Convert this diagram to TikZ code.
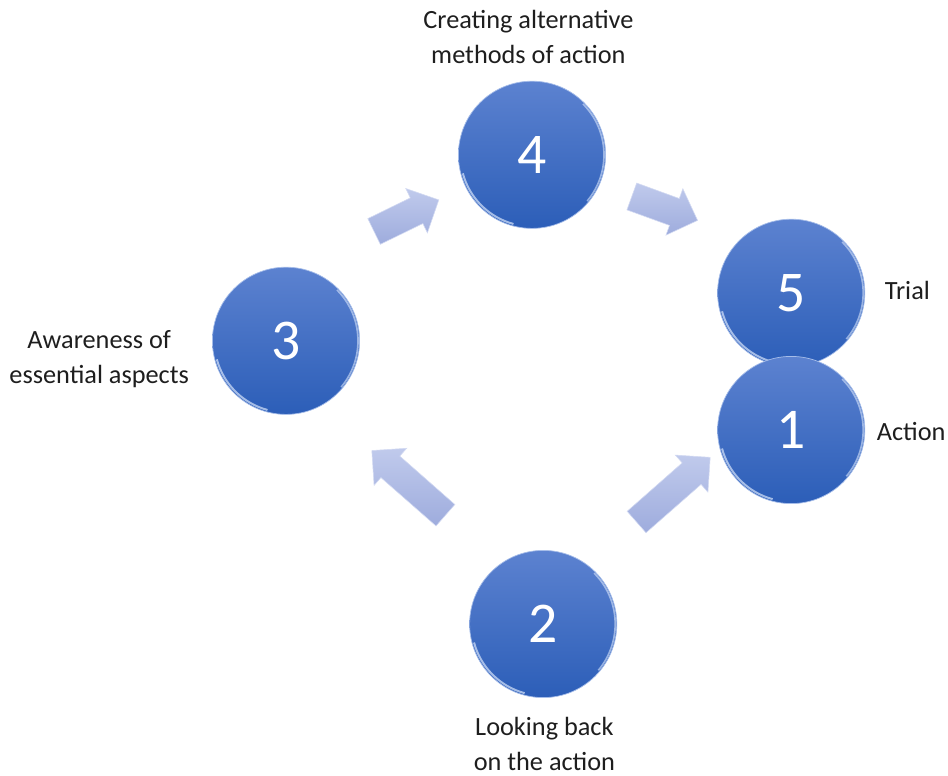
\documentclass[tikz,border=0pt]{standalone}
\usepackage{fontspec}
\setmainfont{Carlito}
\usetikzlibrary{shapes.arrows}
\newcommand{\stagefont}{\fontsize{41}{45}\selectfont}
\newcommand{\stagelabelfont}{\fontsize{18.7}{24.8}\selectfont}
\definecolor{stagetop}{RGB}{92,130,208}
\definecolor{stagebot}{RGB}{44,94,184}
\definecolor{stagerim}{RGB}{215,228,250}
\definecolor{arrowtop}{RGB}{192,202,236}
\definecolor{arrowbot}{RGB}{158,172,221}
\definecolor{labtext}{RGB}{30,30,30}

\begin{document}
\begin{tikzpicture}[
  every node/.style={font=\stagelabelfont},
  stage/.style={circle,minimum size=3.68cm,inner sep=0pt,top color=stagetop,bottom color=stagebot,
    draw=stagerim!60!stagetop,line width=0.5pt,text=white,font=\stagefont,
    path picture={
      \draw[stagerim,line width=1.4pt,opacity=0.7]
        (path picture bounding box.center) ++(195:1.79) arc(195:255:1.79);
      \draw[stagerim,line width=1.2pt,opacity=0.6]
        (path picture bounding box.center) ++(-40:1.8) arc(-40:45:1.8);}},
  lab/.style={text=labtext,align=center,inner sep=1pt},
  blockarrow/.style={single arrow,single arrow head extend=0.26cm,inner xsep=0pt,inner ysep=0.35cm,
    text height=0pt,text depth=0pt,top color=arrowtop,bottom color=arrowbot,
    draw=arrowtop!70!white,line width=0.4pt}
]
\useasboundingbox (0,0) rectangle (23.7,19.4);

% the five stages
\node[stage] (s3) at (7.15,10.88) {3};
\node[stage] (s4) at (13.3,15.53) {4};
\node[stage] (s5) at (19.78,12.08) {5};
\node[stage] (s1) at (19.78,8.65) {1};
\node[stage] (s2) at (13.58,3.8) {2};

% block arrows between the stages
\node[blockarrow,minimum height=1.8cm,rotate=26] (a34) at (10.0,13.93) {};
\node[blockarrow,minimum height=1.75cm,rotate=-20] (a45) at (16.45,14.25) {};
\node[blockarrow,minimum height=2.45cm,rotate=138.7] (a23) at (10.35,7.21) {};
\node[blockarrow,minimum height=2.45cm,rotate=41.3] (a21) at (16.7,7.04) {};

% captions
\node[lab] (t4) at (13.21,18.48) {Creating alternative\\methods of action};
\node[lab,anchor=west] (t5) at (22.08,12.13) {Trial};
\node[lab,anchor=west] (t1) at (21.88,8.6) {Action};
\node[lab] (t3) at (2.48,10.42) {Awareness of\\essential aspects};
\node[lab] (t2) at (13.61,0.8) {Looking back\\on the action};

\end{tikzpicture}
\end{document}
